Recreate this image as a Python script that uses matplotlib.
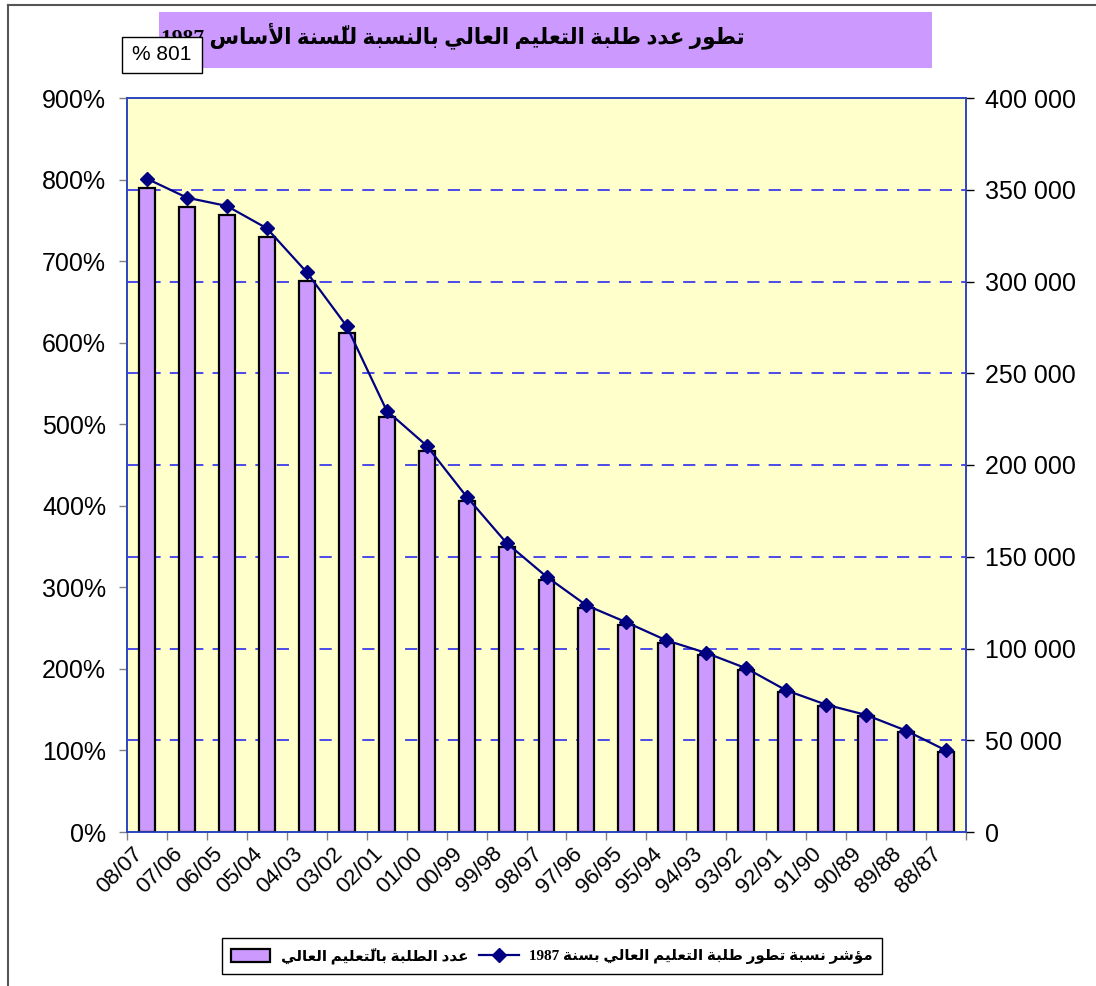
import numpy as np
import matplotlib
matplotlib.use("Agg")
import matplotlib.pyplot as plt
from matplotlib.ticker import FuncFormatter
from matplotlib.patches import Rectangle
from matplotlib.lines import Line2D

# ---------------- data ----------------
categories = ['08/07', '07/06', '06/05', '05/04', '04/03', '03/02', '02/01',
              '01/00', '00/99', '99/98', '98/97', '97/96', '96/95', '95/94',
              '94/93', '93/92', '92/91', '91/90', '90/89', '89/88', '88/87']
students = [351100, 340600, 336100, 324300, 300400, 271800, 226300,
            207600, 180200, 155500, 137100, 121900, 112600, 102800,
            96300, 88100, 76300, 68700, 63000, 54500, 43800]
index_pct = [801, 777.8, 767.6, 740.2, 686.3, 620.1, 516.6,
             473.7, 411.2, 354.4, 313.1, 277.9, 257.1, 235.0,
             219.5, 200.7, 173.7, 156.1, 143.5, 124.3, 100.0]
right_ticks = list(range(0, 400001, 50000))
left_ticks = list(range(0, 901, 100))
title_text = "تطور عدد طلبة التعليم العالي بالنسبة للسّنة الأساس 1987"
label_bars = "عدد الطلبة بالتّعليم العالي"
label_line = "مؤشر نسبة تطور طلبة التعليم العالي بسنة 1987"
callout_text = "% 801"

# ---------------- minimal Arabic shaping + visual ordering ----------------
def _dual(start):
    return tuple(chr(start + k) for k in range(4))

def _right(start):
    return (chr(start), chr(start + 1), None, None)

FORMS = {
    '\u0621': ('\uFE80', None, None, None),
    '\u0622': _right(0xFE81), '\u0623': _right(0xFE83), '\u0624': _right(0xFE85),
    '\u0625': _right(0xFE87), '\u0626': _dual(0xFE89), '\u0627': _right(0xFE8D),
    '\u0628': _dual(0xFE8F), '\u0629': _right(0xFE93), '\u062A': _dual(0xFE95),
    '\u062B': _dual(0xFE99), '\u062C': _dual(0xFE9D), '\u062D': _dual(0xFEA1),
    '\u062E': _dual(0xFEA5), '\u062F': _right(0xFEA9), '\u0630': _right(0xFEAB),
    '\u0631': _right(0xFEAD), '\u0632': _right(0xFEAF), '\u0633': _dual(0xFEB1),
    '\u0634': _dual(0xFEB5), '\u0635': _dual(0xFEB9), '\u0636': _dual(0xFEBD),
    '\u0637': _dual(0xFEC1), '\u0638': _dual(0xFEC5), '\u0639': _dual(0xFEC9),
    '\u063A': _dual(0xFECD), '\u0641': _dual(0xFED1), '\u0642': _dual(0xFED5),
    '\u0643': _dual(0xFED9), '\u0644': _dual(0xFEDD), '\u0645': _dual(0xFEE1),
    '\u0646': _dual(0xFEE5), '\u0647': _dual(0xFEE9), '\u0648': _right(0xFEED),
    '\u0649': _right(0xFEEF), '\u064A': _dual(0xFEF1),
}
LAMALEF = {'\u0622': ('\uFEF5', '\uFEF6'), '\u0623': ('\uFEF7', '\uFEF8'),
           '\u0625': ('\uFEF9', '\uFEFA'), '\u0627': ('\uFEFB', '\uFEFC')}
TRANSP = set(chr(c) for c in range(0x064B, 0x0653))


def ar(s):
    clusters = []
    for ch in s:
        if ch in TRANSP and clusters:
            clusters[-1][1].append(ch)
        else:
            clusters.append([ch, []])
    merged = []
    i = 0
    while i < len(clusters):
        c, m = clusters[i]
        if c == '\u0644' and i + 1 < len(clusters) and clusters[i + 1][0] in LAMALEF:
            merged.append(['LA' + clusters[i + 1][0], m + clusters[i + 1][1]])
            i += 2
        else:
            merged.append([c, m])
            i += 1

    def is_ar(c):
        return c is not None and (c in FORMS or c.startswith('LA'))

    def dual(c):
        return c is not None and c in FORMS and FORMS[c][2] is not None

    shaped = []
    for j, (c, m) in enumerate(merged):
        prev = merged[j - 1][0] if j > 0 else None
        nxt = merged[j + 1][0] if j + 1 < len(merged) else None
        jp = dual(prev) and is_ar(c)
        if c.startswith('LA'):
            iso, fin = LAMALEF[c[2:]]
            g = fin if jp else iso
        elif c in FORMS:
            f = FORMS[c]
            jn = dual(c) and is_ar(nxt)
            if jp and jn:
                g = f[3]
            elif jp:
                g = f[1]
            elif jn:
                g = f[2]
            else:
                g = f[0]
        else:
            g = c
        shaped.append((c, g + ''.join(m)))
    runs = []
    for c, g in shaped:
        ltr = len(c) == 1 and c.isascii() and (c.isdigit() or c in './')
        if runs and runs[-1][0] == ltr and ltr:
            runs[-1][1].append(g)
        else:
            runs.append([ltr, [g]])
    return ''.join(''.join(gs) for ltr, gs in reversed(runs))


# ---------------- figure ----------------
W, H = 1096, 986
fig = plt.figure(figsize=(W / 100, H / 100), dpi=100)
fig.patch.set_facecolor('white')


def fx(x):
    return x / W


def fy(y):
    return 1 - y / H


# outer chart border (left and top edges visible in the reference)
fig.add_artist(Line2D([fx(8), fx(8)], [fy(5), 0], transform=fig.transFigure,
                      color='#555555', linewidth=1.5))
fig.add_artist(Line2D([fx(8), 1], [fy(5), fy(5)], transform=fig.transFigure,
                      color='#555555', linewidth=1.5))

ax = fig.add_axes([fx(127), fy(832), 839 / W, 734 / H])
ax.set_facecolor('#FFFFCC')
x = np.arange(len(categories))

ax.bar(x, students, width=0.4, color='#CC99FF', edgecolor='black',
       linewidth=1.6, zorder=3)
for v in right_ticks[1:-1]:
    ax.axhline(v, color='#1A1AF0', linewidth=1.1, linestyle=(0, (8, 6)), zorder=1)

ax.set_xlim(-0.5, len(categories) - 0.5)
ax.set_ylim(0, 400000)

ax2 = ax.twinx()
ax2.plot(x, index_pct, color='#000080', linewidth=1.6, marker='D', markersize=7,
         markerfacecolor='#000080', markeredgecolor='#000080', zorder=4)
ax2.set_ylim(0, 900)

# right axis: student counts
ax.yaxis.tick_right()
ax.yaxis.set_label_position('right')
ax.set_yticks(right_ticks)
ax.yaxis.set_major_formatter(FuncFormatter(lambda v, p: f'{int(v):,}'.replace(',', ' ')))
ax.tick_params(axis='y', which='major', direction='out', length=6, color='black',
               labelsize=18, pad=8, width=1, left=False, labelleft=False,
               right=True, labelright=True)

# left axis: index
ax2.yaxis.tick_left()
ax2.yaxis.set_label_position('left')
ax2.set_yticks(left_ticks)
ax2.yaxis.set_major_formatter(FuncFormatter(lambda v, p: f'{int(v)}%'))
ax2.tick_params(axis='y', direction='out', length=6, color='#808080', labelsize=18,
                pad=9, width=1, left=True, labelleft=True, right=False, labelright=False)

# x axis
ax.set_xticks(np.arange(-0.5, len(categories), 1.0))
ax.set_xticklabels([])
ax.set_xticks(x - 0.37, minor=True)
ax.set_xticklabels(categories, minor=True, rotation=45, ha='right', va='top',
                   rotation_mode='anchor')
ax.tick_params(axis='x', which='major', direction='out', length=6, color='#808080', width=1)
ax.tick_params(axis='x', which='minor', length=0, labelsize=16, pad=8)

for lbl in ax.get_xticklabels(minor=True) + ax.get_yticklabels() + ax2.get_yticklabels():
    lbl.set_fontfamily('Liberation Sans')

for a in (ax, ax2):
    for s in a.spines.values():
        s.set_color('#2B45C0')
        s.set_linewidth(1.2)

# title box
fig.patches.append(Rectangle((fx(159), fy(68)), (932 - 159) / W, 56 / H,
                             transform=fig.transFigure, facecolor='#CC99FF',
                             edgecolor='none'))
fig.text(fx(745), fy(36), ar(title_text), ha='right', va='center', fontsize=15.5,
         fontweight='bold', family=['Liberation Serif', 'DejaVu Sans'])

# callout box
fig.patches.append(Rectangle((fx(122), fy(73)), 80 / W, 36 / H,
                             transform=fig.transFigure, facecolor='white',
                             edgecolor='black', linewidth=1, zorder=5))
fig.text(fx(162), fy(55), callout_text, ha='center', va='center', fontsize=15,
         family='Liberation Sans', zorder=6)

# legend
h_bar = Rectangle((0, 0), 1, 1, facecolor='#CC99FF', edgecolor='black', linewidth=1.6)
h_line = Line2D([], [], color='#000080', linewidth=1.6, marker='D', markersize=7)
leg = fig.legend([h_bar, h_line], [ar(label_bars), ar(label_line)], ncol=2,
                 loc='center', bbox_to_anchor=(fx(552), fy(956)),
                 prop=dict(family=['Liberation Serif', 'DejaVu Sans'], weight='bold', size=10.9),
                 frameon=True, fancybox=False, edgecolor='black', framealpha=1,
                 handlelength=2.6, handleheight=1.0, handletextpad=0.7,
                 columnspacing=0.7, borderpad=0.6)
leg.get_frame().set_linewidth(1)

fig.savefig('out.png', dpi=100)
